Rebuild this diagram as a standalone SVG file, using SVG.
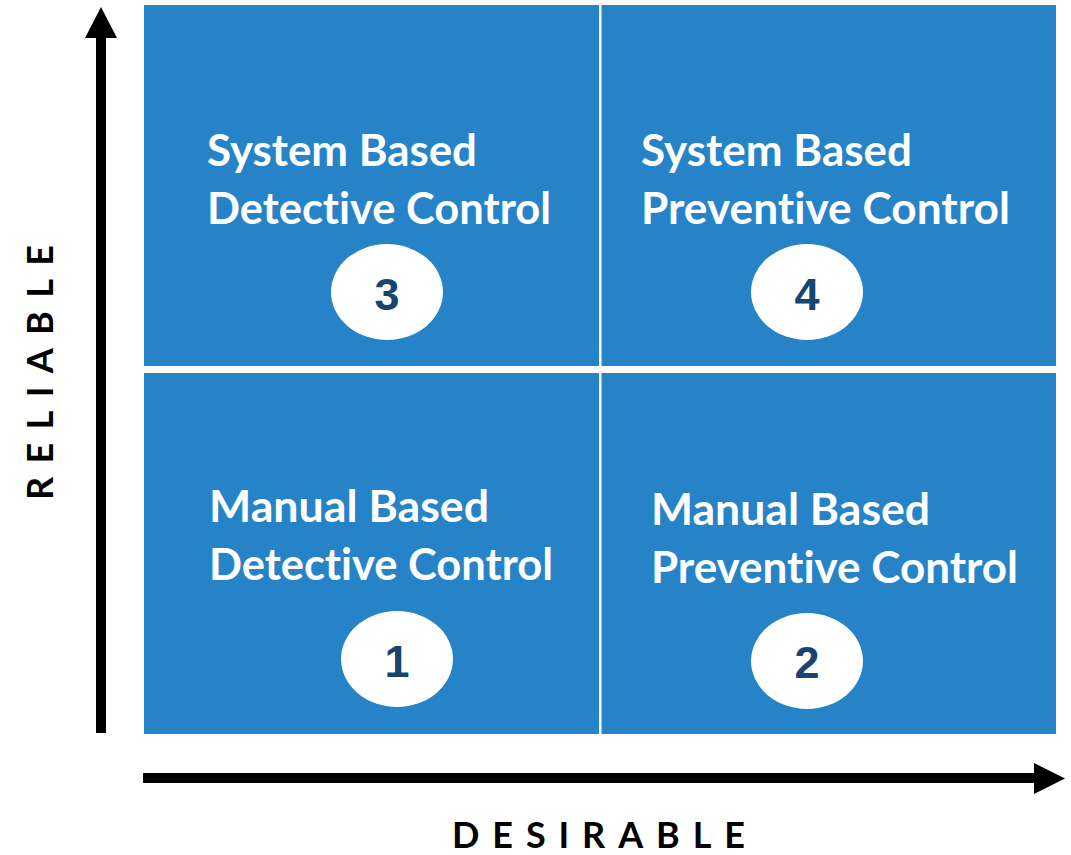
<svg xmlns="http://www.w3.org/2000/svg" width="1071" height="855" viewBox="0 0 1071 855">
  <style>
    .quad { fill: #2783C7; }
    .badge { fill: #FFFFFF; }
    .label { font-family: Lato, "Open Sans", "Liberation Sans", sans-serif; font-weight: 700; font-size: 43px; fill: #FFFFFF; font-variant-ligatures: none; font-feature-settings: "liga" 0, "dlig" 0; }
    .num { font-family: "Liberation Sans", Arial, sans-serif; font-weight: 700; font-size: 45px; fill: #17456F; text-anchor: middle; }
    .axis-label { font-family: Lato, "Open Sans", "Liberation Sans", sans-serif; font-weight: 700; font-size: 36px; fill: #000000; }
    .axis { fill: #000000; }
  </style>
  <rect width="1071" height="855" fill="#FFFFFF"/>

  <g id="quadrant-3">
    <rect class="quad" x="144" y="5" width="455" height="361"/>
    <text class="label" x="207" y="166" textLength="270" lengthAdjust="spacingAndGlyphs">System Based</text>
    <text class="label" x="207" y="224" textLength="344" lengthAdjust="spacingAndGlyphs">Detective Control</text>
    <ellipse class="badge" cx="387" cy="292" rx="56" ry="48"/>
    <text class="num" x="387" y="310">3</text>
  </g>

  <g id="quadrant-4">
    <rect class="quad" x="601.5" y="5" width="454.5" height="361"/>
    <text class="label" x="641" y="166" textLength="271" lengthAdjust="spacingAndGlyphs">System Based</text>
    <text class="label" x="641" y="224" textLength="369" lengthAdjust="spacingAndGlyphs">Preventive Control</text>
    <ellipse class="badge" cx="807" cy="292" rx="56" ry="48"/>
    <text class="num" x="807" y="310">4</text>
  </g>

  <g id="quadrant-1">
    <rect class="quad" x="144" y="373" width="455" height="361"/>
    <text class="label" x="209" y="522" textLength="280" lengthAdjust="spacingAndGlyphs">Manual Based</text>
    <text class="label" x="209" y="580" textLength="344" lengthAdjust="spacingAndGlyphs">Detective Control</text>
    <ellipse class="badge" cx="397" cy="659" rx="56" ry="48"/>
    <text class="num" x="397" y="677">1</text>
  </g>

  <g id="quadrant-2">
    <rect class="quad" x="601.5" y="373" width="454.5" height="361"/>
    <text class="label" x="651" y="525" textLength="279" lengthAdjust="spacingAndGlyphs">Manual Based</text>
    <text class="label" x="651" y="583" textLength="367" lengthAdjust="spacingAndGlyphs">Preventive Control</text>
    <ellipse class="badge" cx="807" cy="661" rx="56" ry="48"/>
    <text class="num" x="807" y="678">2</text>
  </g>

  <g id="axes">
    <g id="axis-reliable">
      <rect class="axis" x="96" y="36" width="10" height="697"/>
      <polygon class="axis" points="85,38 117,38 101,7"/>
      <text class="axis-label" transform="translate(53,500) rotate(-90)" x="0" y="0" textLength="255" lengthAdjust="spacing">RELIABLE</text>
    </g>
    <g id="axis-desirable">
      <rect class="axis" x="143" y="773" width="893" height="10"/>
      <polygon class="axis" points="1034,763 1034,794 1065,778.5"/>
      <text class="axis-label" x="452" y="848" textLength="293" lengthAdjust="spacing">DESIRABLE</text>
    </g>
  </g>
</svg>
